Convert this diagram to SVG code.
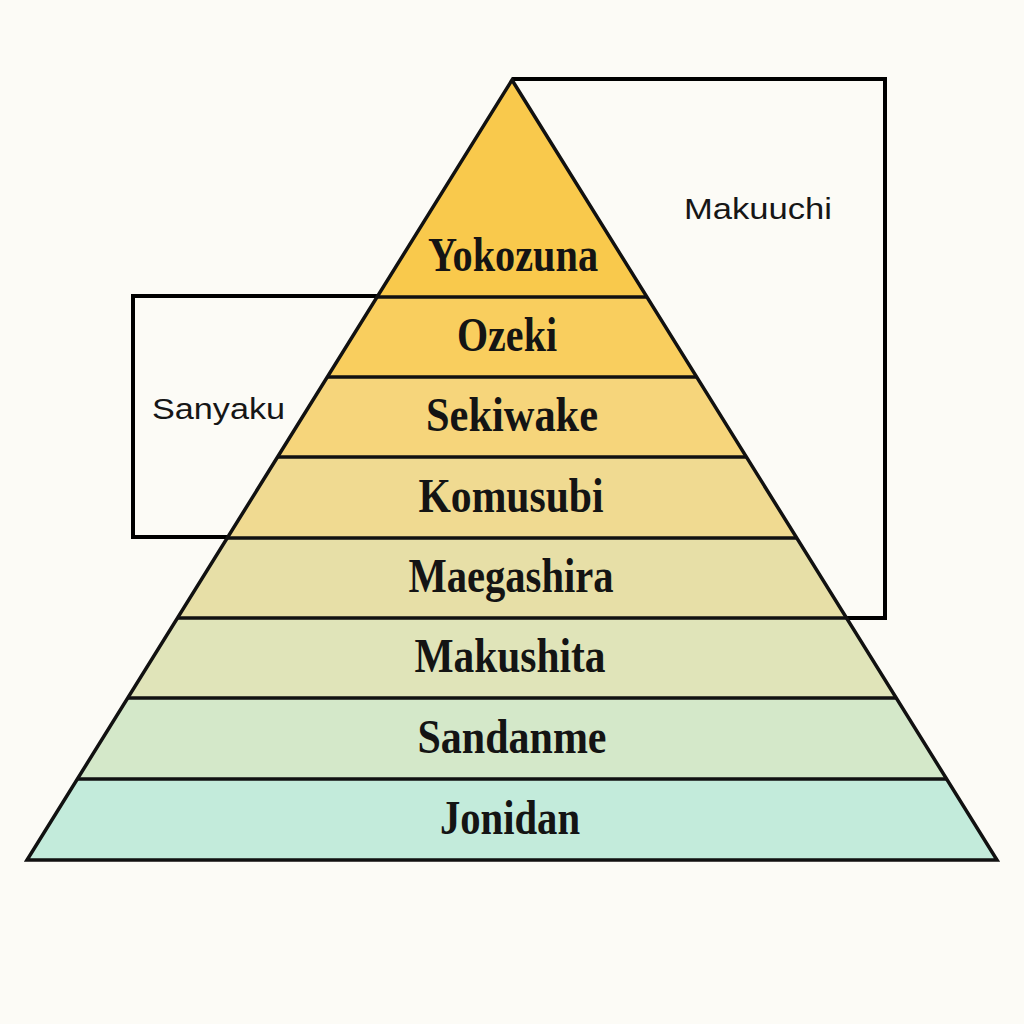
<svg xmlns="http://www.w3.org/2000/svg" width="1024" height="1024" viewBox="0 0 1024 1024">
<style>
.lbl{font-family:"Liberation Serif","DejaVu Serif",serif;font-weight:bold;font-size:48px;fill:#141414;text-anchor:middle}
.side{font-family:"Liberation Sans","DejaVu Sans",sans-serif;font-size:29px;fill:#161616}
.box{fill:none;stroke:#000;stroke-width:4;stroke-linejoin:miter}
.sep{stroke:#111;stroke-width:3.5}
</style>
<rect width="1024" height="1024" fill="#FCFBF6"/>
<g id="node-makuuchi">
<polyline class="box" points="512,79 885,79 885,618 846,618"/>
<text class="side" x="684" y="219" textLength="148" lengthAdjust="spacingAndGlyphs">Makuuchi</text>
</g>
<g id="node-sanyaku">
<polyline class="box" points="378,296 133,296 133,537 229,537"/>
<text class="side" x="152" y="419" textLength="133" lengthAdjust="spacingAndGlyphs">Sanyaku</text>
</g>
<g id="node-yokozuna">
<polygon points="512,80 646.9,297 377.1,297" fill="#F9C94C"/>
<text class="lbl" x="513" y="271" textLength="170" lengthAdjust="spacingAndGlyphs">Yokozuna</text>
</g>
<g id="node-ozeki">
<polygon points="377.1,297 646.9,297 696.7,377 327.3,377" fill="#F9CE5E"/>
<text class="lbl" x="507" y="351" textLength="100" lengthAdjust="spacingAndGlyphs">Ozeki</text>
</g>
<g id="node-sekiwake">
<polygon points="327.3,377 696.7,377 746.4,457 277.6,457" fill="#F6D57B"/>
<text class="lbl" x="512" y="431" textLength="172" lengthAdjust="spacingAndGlyphs">Sekiwake</text>
</g>
<g id="node-komusubi">
<polygon points="277.6,457 746.4,457 796.8,538 227.2,538" fill="#F0DA91"/>
<text class="lbl" x="511" y="512" textLength="185" lengthAdjust="spacingAndGlyphs">Komusubi</text>
</g>
<g id="node-maegashira">
<polygon points="227.2,538 796.8,538 846.5,618 177.5,618" fill="#E7DFA7"/>
<text class="lbl" x="511" y="592" textLength="205" lengthAdjust="spacingAndGlyphs">Maegashira</text>
</g>
<g id="node-makushita">
<polygon points="177.5,618 846.5,618 896.3,698 127.7,698" fill="#E0E4B9"/>
<text class="lbl" x="510" y="672" textLength="191" lengthAdjust="spacingAndGlyphs">Makushita</text>
</g>
<g id="node-sandanme">
<polygon points="127.7,698 896.3,698 946.6,779 77.4,779" fill="#D4E8C9"/>
<text class="lbl" x="512" y="753" textLength="189" lengthAdjust="spacingAndGlyphs">Sandanme</text>
</g>
<g id="node-jonidan">
<polygon points="77.4,779 946.6,779 997,860 27,860" fill="#C3EBDB"/>
<text class="lbl" x="510" y="834" textLength="140" lengthAdjust="spacingAndGlyphs">Jonidan</text>
</g>
<g id="connectors">
<line class="sep" x1="377.1" y1="297" x2="646.9" y2="297"/>
<line class="sep" x1="327.3" y1="377" x2="696.7" y2="377"/>
<line class="sep" x1="277.6" y1="457" x2="746.4" y2="457"/>
<line class="sep" x1="227.2" y1="538" x2="796.8" y2="538"/>
<line class="sep" x1="177.5" y1="618" x2="846.5" y2="618"/>
<line class="sep" x1="127.7" y1="698" x2="896.3" y2="698"/>
<line class="sep" x1="77.4" y1="779" x2="946.6" y2="779"/>
<polygon points="512,80 997,860 27,860" fill="none" stroke="#111" stroke-width="3.5" stroke-linejoin="miter"/>
</g>
</svg>
